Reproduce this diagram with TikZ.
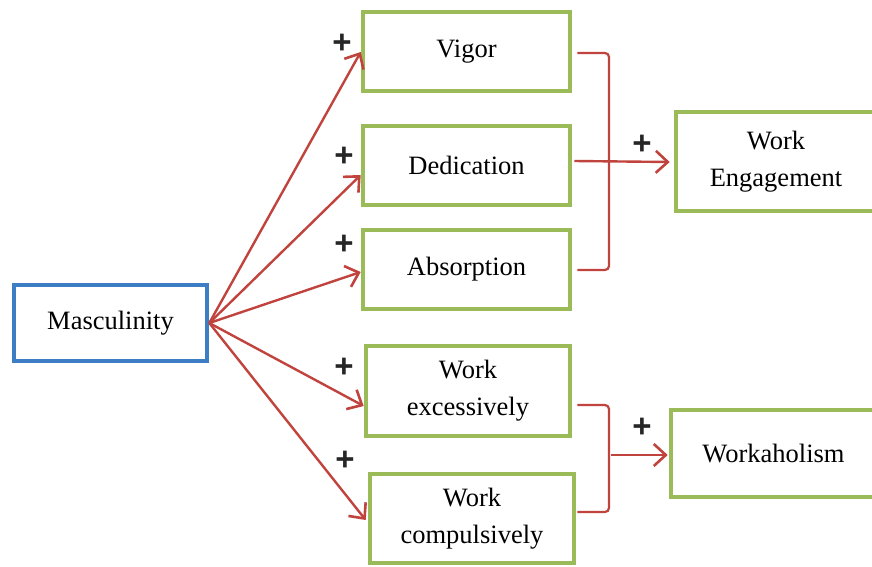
\documentclass[tikz,border=0pt]{standalone}
\usepackage{fontspec}
\setmainfont{Liberation Serif}
\newfontfamily\plusfont{Liberation Sans}
\usetikzlibrary{arrows.meta,calc}
\definecolor{boxgreen}{HTML}{9BBB59}
\definecolor{boxblue}{HTML}{3D7DC3}
\definecolor{arrred}{HTML}{C0433D}
\tikzset{
  gbox/.style={draw=boxgreen, line width=4.6pt, fill=white, inner sep=0pt, align=center,
    font=\fontsize{26.5}{37}\selectfont},
  bbox/.style={draw=boxblue, line width=4.6pt, fill=white, inner sep=0pt, align=center,
    font=\fontsize{26.5}{37}\selectfont},
  conn/.style={draw=arrred, line width=2.4pt, -{Straight Barb[length=12pt,width=22pt,line width=2.6pt]}},
  brk/.style={draw=arrred, line width=2.2pt, rounded corners=4pt},
  plussign/.style={font=\plusfont\fontsize{33}{33}\selectfont\bfseries, text=black!85, inner sep=0pt}
}
\begin{document}
\begin{tikzpicture}[x=1pt,y=-1pt]
\useasboundingbox (0,0) rectangle (872,567);
\clip (0,0) rectangle (872,567);
% boxes
\node[bbox, minimum width=193pt, minimum height=76pt] (masc) at (110.5,323) {\raisebox{-2pt}{Masculinity}};
\node[gbox, minimum width=207pt, minimum height=79pt] (vig) at (466.5,51.5) {\raisebox{-2pt}{Vigor}};
\node[gbox, minimum width=207pt, minimum height=79pt] (ded) at (466.5,165.5) {Dedication};
\node[gbox, minimum width=207pt, minimum height=79pt] (abs) at (466.5,269.5) {\raisebox{-2pt}{Absorption}};
\node[gbox, minimum width=204pt, minimum height=90pt] (wex) at (468,391) {Work\\excessively};
\node[gbox, minimum width=204pt, minimum height=89pt] (wco) at (472,518.5) {Work\\compulsively};
\node[gbox, minimum width=200pt, minimum height=99pt] (we) at (776,161.5) {Work\\Engagement};
\node[gbox, minimum width=205pt, minimum height=87pt] (wa) at (773.5,453.5) {Workaholism};
% arrows from masculinity
\draw[conn] (masc.east) -- ([yshift=-0.5pt]vig.west);
\draw[conn] (masc.east) -- ([yshift=-9.5pt]ded.west);
\draw[conn] (masc.east) -- ([yshift=-2.5pt]abs.west);
\draw[conn] (masc.east) -- ([yshift=-15pt]wex.west);
\draw[conn] (masc.east) -- ([xshift=-2pt,yshift=-1.5pt]wco.west);
% top bracket
\coordinate (b1) at ($(vig.east)+(5,1.5)$);
\coordinate (b2) at ($(abs.east)+(5,0.5)$);
\draw[brk] (b1) -- (b1 -| 609,0) -- (b2 -| 609,0) -- (b2);
\draw[conn] ([xshift=2pt,yshift=4.5pt]ded.east) -- ([xshift=-4pt,yshift=-0.5pt]we.west);
% bottom bracket
\coordinate (c1) at ($(wex.east)+(5,14)$);
\coordinate (c2) at ($(wco.east)+(1,-6.5)$);
\draw[brk] (c1) -- (c1 -| 609,0) -- (c2 -| 609,0) -- (c2);
\coordinate (c3) at (611,455);
\draw[conn] (c3) -- ([xshift=-1pt]c3 -| wa.west);
% plus signs
\node[plussign] (p1) at (342,44) {+};
\node[plussign] (p2) at (344,157) {+};
\node[plussign] (p3) at (344,245) {+};
\node[plussign] (p4) at (344,368) {+};
\node[plussign] (p5) at (345,461) {+};
\node[plussign] (p6) at (642,145) {+};
\node[plussign] (p7) at (642,428) {+};
\end{tikzpicture}
\end{document}
